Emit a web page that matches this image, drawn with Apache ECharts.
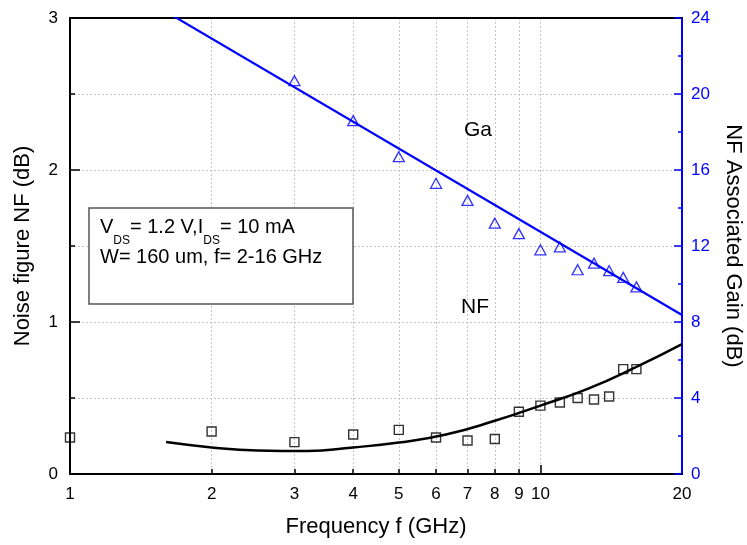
<!DOCTYPE html>
<html>
<head>
<meta charset="utf-8">
<script src="https://cdn.jsdelivr.net/npm/echarts@6/dist/echarts.min.js"></script>
<style>html,body{margin:0;padding:0;background:#fff}#c{width:747px;height:545px}</style>
</head>
<body>
<div id="c"></div>
<script>
// Data
var freqTickLabels = [1, 2, 3, 4, 5, 6, 7, 8, 9, 10, 20];
var freqMinorTicks = [2, 3, 4, 5, 6, 7, 8, 9, 10];
var nfFreq = [1, 2, 3, 4, 5, 6, 7, 8, 9, 10, 11, 12, 13, 14, 15, 16];
var nfMeas = [0.24, 0.28, 0.21, 0.26, 0.29, 0.24, 0.22, 0.23, 0.41, 0.45, 0.47, 0.50, 0.49, 0.51, 0.69, 0.69];
var nfFitFreq = [1.6, 2, 2.5, 3.2, 4, 5, 6.3, 8, 10, 12.6, 16, 20];
var nfFitVal = [0.21, 0.175, 0.155, 0.151, 0.175, 0.207, 0.26, 0.35, 0.45, 0.56, 0.705, 0.855];
var gaFreq = [3, 4, 5, 6, 7, 8, 9, 10, 11, 12, 13, 14, 15, 16];
var gaMeas = [20.7, 18.6, 16.7, 15.3, 14.4, 13.2, 12.65, 11.8, 11.95, 10.75, 11.1, 10.7, 10.35, 9.85];
var gaFitFreq = [1, 20];
var gaFitVal = [27.3, 8.37];

function pairs(xs, ys) { return xs.map(function (x, i) { return [x, ys[i]]; }); }

var FONT = 'Liberation Sans, Arial, sans-serif';
var BLUE = '#0000ff';
var gridLine = { show: true, lineStyle: { color: '#c4c4c4', type: [2, 2], width: 1 } };

var chart = echarts.init(document.getElementById('c'), null, { renderer: 'canvas' });
chart.setOption({
  animation: false,
  backgroundColor: '#fff',
  grid: { left: 70, right: 65, top: 18, bottom: 71, containLabel: false, outerBoundsMode: 'none' },
  xAxis: [
    {
      type: 'log', logBase: 10, min: 1, max: 20, position: 'bottom',
      name: 'Frequency f (GHz)', nameLocation: 'middle', nameGap: 42,
      nameTextStyle: { fontFamily: FONT, fontSize: 22, color: '#000' },
      axisLine: { show: true, lineStyle: { color: '#000', width: 2 } },
      axisTick: { show: true, inside: true, length: 5, customValues: freqMinorTicks, lineStyle: { color: '#000', width: 1.5 } },
      axisLabel: { show: true, customValues: freqTickLabels, margin: 12, fontFamily: FONT, fontSize: 17, color: '#000' },
      splitLine: gridLine,
      minorTick: { show: false }
    },
    {
      type: 'log', logBase: 10, min: 1, max: 20, position: 'bottom',
      axisLine: { show: false },
      axisTick: { show: true, inside: true, length: 9, customValues: [10], lineStyle: { color: '#000', width: 1.5 } },
      axisLabel: { show: false },
      splitLine: { show: false }
    },
    {
      type: 'log', logBase: 10, min: 1, max: 20, position: 'top',
      axisLine: { show: true, lineStyle: { color: '#000', width: 2 } },
      axisTick: { show: false },
      axisLabel: { show: false },
      splitLine: { show: false }
    }
  ],
  yAxis: [
    {
      type: 'value', min: 0, max: 3, interval: 1, position: 'left',
      name: 'Noise figure NF (dB)', nameLocation: 'middle', nameGap: 36,
      nameTextStyle: { fontFamily: FONT, fontSize: 22, color: '#000' },
      axisLine: { show: true, lineStyle: { color: '#000', width: 2 } },
      axisTick: { show: true, inside: true, length: 10, lineStyle: { color: '#000', width: 1.5 } },
      minorTick: { show: true, splitNumber: 2, length: 5, lineStyle: { color: '#000', width: 1.5 } },
      axisLabel: { margin: 12, fontFamily: FONT, fontSize: 17, color: '#000' },
      splitLine: gridLine,
      minorSplitLine: gridLine
    },
    {
      type: 'value', min: 0, max: 24, interval: 4, position: 'right',
      name: 'NF Associated Gain (dB)', nameLocation: 'middle', nameGap: 40, nameRotate: -90,
      nameTextStyle: { fontFamily: FONT, fontSize: 22, color: '#000' },
      axisLine: { show: true, lineStyle: { color: BLUE, width: 2 } },
      axisTick: { show: true, inside: true, length: 8, lineStyle: { color: BLUE, width: 1.5 } },
      minorTick: { show: true, splitNumber: 2, length: 4, lineStyle: { color: BLUE, width: 1.5 } },
      axisLabel: { margin: 9, fontFamily: FONT, fontSize: 17, color: BLUE },
      splitLine: { show: false }
    }
  ],
  series: [
    {
      type: 'line', name: 'NF fit', xAxisIndex: 0, yAxisIndex: 0,
      data: pairs(nfFitFreq, nfFitVal), smooth: 0.5, showSymbol: false, symbol: 'none',
      lineStyle: { color: '#000', width: 2.5 }, clip: true, z: 3
    },
    {
      type: 'scatter', name: 'NF', xAxisIndex: 0, yAxisIndex: 0,
      data: pairs(nfFreq, nfMeas), symbol: 'rect', symbolSize: 9,
      itemStyle: { color: 'rgba(255,255,255,0)', borderColor: '#000', borderWidth: 1.4 }, z: 4
    },
    {
      type: 'line', name: 'Ga fit', xAxisIndex: 0, yAxisIndex: 1,
      data: pairs(gaFitFreq, gaFitVal), showSymbol: false, symbol: 'none',
      lineStyle: { color: BLUE, width: 2.2 }, clip: true, z: 3
    },
    {
      type: 'scatter', name: 'Ga', xAxisIndex: 0, yAxisIndex: 1,
      data: pairs(gaFreq, gaMeas), symbol: 'triangle', symbolSize: [11, 10],
      itemStyle: { color: 'rgba(255,255,255,0)', borderColor: BLUE, borderWidth: 1.3 }, z: 4
    }
  ],
  graphic: [
    {
      type: 'rect', z: 10,
      shape: { x: 89, y: 208, width: 264, height: 96 },
      style: { fill: '#fff', stroke: '#555', lineWidth: 1.5 }
    },
    {
      type: 'text', z: 11, x: 100, y: 217,
      style: {
        text: '{m|V}{s|DS}{m|= 1.2 V,I}{s|DS}{m|= 10 mA}',
        verticalAlign: 'top', align: 'left',
        rich: {
          m: { fontFamily: FONT, fontSize: 20, lineHeight: 20, verticalAlign: 'top', fill: '#000' },
          s: { fontFamily: FONT, fontSize: 12, lineHeight: 12, padding: [18, 0, 0, 0], verticalAlign: 'top', fill: '#000' }
        }
      }
    },
    {
      type: 'text', z: 11, x: 100, y: 257,
      style: { text: 'W= 160 um, f= 2-16 GHz', font: '20px ' + FONT, fill: '#000', verticalAlign: 'middle', align: 'left' }
    },
    {
      type: 'text', z: 11, x: 464, y: 130,
      style: { text: 'Ga', font: '21px ' + FONT, fill: '#000', verticalAlign: 'middle', align: 'left' }
    },
    {
      type: 'text', z: 11, x: 461, y: 307,
      style: { text: 'NF', font: '21px ' + FONT, fill: '#000', verticalAlign: 'middle', align: 'left' }
    }
  ]
});
</script>
</body>
</html>
